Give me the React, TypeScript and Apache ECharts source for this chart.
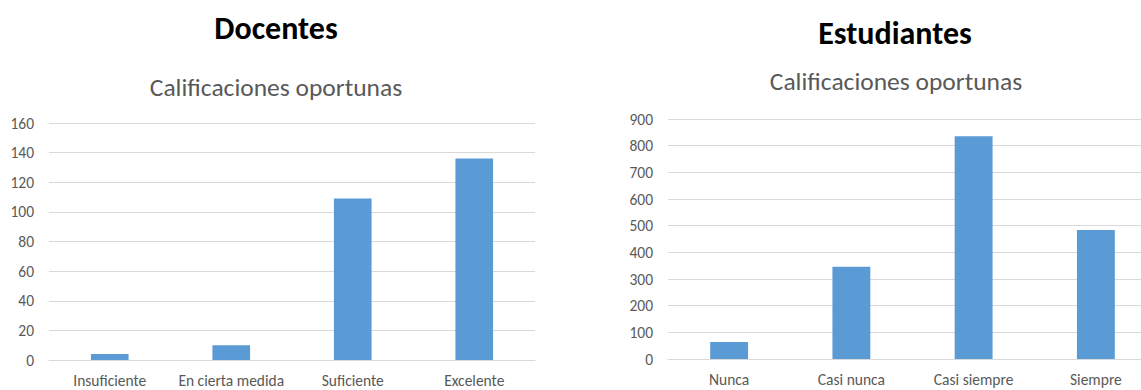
import React, { useEffect, useRef } from "react";
import * as echarts from "echarts";

const docentesCategories = ["Insuficiente", "En cierta medida", "Suficiente", "Excelente"];
const docentesValues = [4, 10, 109, 136];
const estudiantesCategories = ["Nunca", "Casi nunca", "Casi siempre", "Siempre"];
const estudiantesValues = [64, 346, 835, 484];

const FONT = "Carlito, Lato, 'Open Sans', sans-serif";
const BAR = "#5b9bd5";
const GRID = "#d9d9d9";
const LABEL = "#595959";

export default function App() {
  const ref = useRef<HTMLDivElement>(null);
  useEffect(() => {
    document.body.style.margin = "0";
    const chart = echarts.init(ref.current!, null, { renderer: "svg" });
    const axisLabel = { color: LABEL, fontSize: 15.5, fontFamily: FONT };
    chart.setOption({
      animation: false,
      backgroundColor: "#ffffff",
      graphic: [
        { type: "text", x: 276, y: 28, style: { text: "Docentes", fontFamily: FONT, fontSize: 32, fontWeight: "bold", fill: "#000", textAlign: "center", textVerticalAlign: "middle" } },
        { type: "text", x: 895, y: 33, style: { text: "Estudiantes", fontFamily: FONT, fontSize: 32, fontWeight: "bold", fill: "#000", textAlign: "center", textVerticalAlign: "middle" } },
        { type: "text", x: 276, y: 87, style: { text: "Calificaciones oportunas", fontFamily: FONT, fontSize: 25.5, fill: LABEL, textAlign: "center", textVerticalAlign: "middle" } },
        { type: "text", x: 896, y: 81, style: { text: "Calificaciones oportunas", fontFamily: FONT, fontSize: 25.5, fill: LABEL, textAlign: "center", textVerticalAlign: "middle" } },
      ],
      grid: [
        { left: 49, top: 123, width: 486, height: 237, outerBoundsMode: "none" },
        { left: 668, top: 119, width: 489, height: 240, outerBoundsMode: "none" },
      ],
      xAxis: [
        {
          type: "category", gridIndex: 0, data: docentesCategories,
          axisLine: { lineStyle: { color: GRID } }, axisTick: { show: false },
          axisLabel: { ...axisLabel, margin: 12, interval: 0 },
        },
        {
          type: "category", gridIndex: 1, data: estudiantesCategories,
          axisLine: { lineStyle: { color: GRID } }, axisTick: { show: false },
          axisLabel: { ...axisLabel, margin: 12, interval: 0 },
        },
      ],
      yAxis: [
        {
          type: "value", gridIndex: 0, min: 0, max: 160, interval: 20,
          axisLine: { show: false }, axisTick: { show: false },
          splitLine: { lineStyle: { color: GRID } },
          axisLabel: { ...axisLabel, margin: 15 },
        },
        {
          type: "value", gridIndex: 1, min: 0, max: 900, interval: 100,
          axisLine: { show: false }, axisTick: { show: false },
          splitLine: { lineStyle: { color: GRID } },
          axisLabel: { ...axisLabel, margin: 15 },
        },
      ],
      series: [
        { type: "bar", xAxisIndex: 0, yAxisIndex: 0, data: docentesValues, barWidth: "31%", itemStyle: { color: BAR } },
        { type: "bar", xAxisIndex: 1, yAxisIndex: 1, data: estudiantesValues, barWidth: "31%", itemStyle: { color: BAR } },
      ],
    });
    return () => chart.dispose();
  }, []);
  return <div ref={ref} style={{ width: 1141, height: 390 }} />;
}
